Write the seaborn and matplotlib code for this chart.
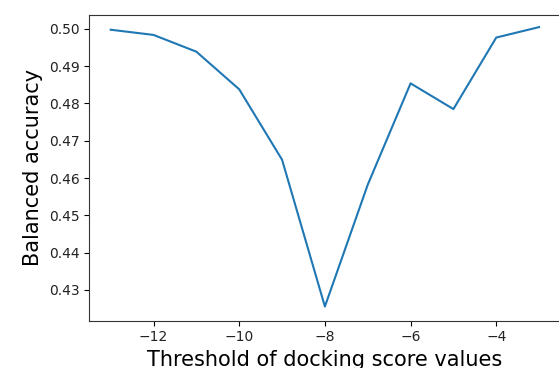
import matplotlib
matplotlib.use("Agg")
import matplotlib.pyplot as plt
from matplotlib.ticker import FormatStrFormatter
import seaborn as sns
import pandas as pd

# Docking score threshold vs balanced accuracy
thresholds = [-13, -12, -11, -10, -9, -8, -7, -6, -5, -4, -3]
balanced_acc = [0.4998, 0.4984, 0.4939, 0.4838, 0.4649, 0.4255,
                0.4582, 0.4854, 0.4785, 0.4977, 0.5005]
x_ticks = [-12, -10, -8, -6, -4]
y_ticks = [0.43, 0.44, 0.45, 0.46, 0.47, 0.48, 0.49, 0.50]

df = pd.DataFrame({"threshold": thresholds, "balanced_accuracy": balanced_acc})

W, H = 559, 368
fig = plt.figure(figsize=(W / 100, H / 100), dpi=100)
ax = fig.add_axes([89.3 / W, (H - 320.7) / H, (560.5 - 89.3) / W, (320.7 - 15) / H])

sns.lineplot(data=df, x="threshold", y="balanced_accuracy", ax=ax,
             color="#1f77b4", linewidth=1.5)

ax.set_xlim(-13.5, -2.5)
ax.set_ylim(0.4217, 0.50375)
ax.set_xticks(x_ticks)
ax.set_yticks(y_ticks)
ax.yaxis.set_major_formatter(FormatStrFormatter("%.2f"))
ax.tick_params(labelsize=10, labelcolor="#222222")
for s in ax.spines.values():
    s.set_color("#333333")
ax.set_xlabel("Threshold of docking score values", fontsize=15)
ax.set_ylabel("Balanced accuracy", fontsize=15)

fig.savefig("out.png", dpi=100)
